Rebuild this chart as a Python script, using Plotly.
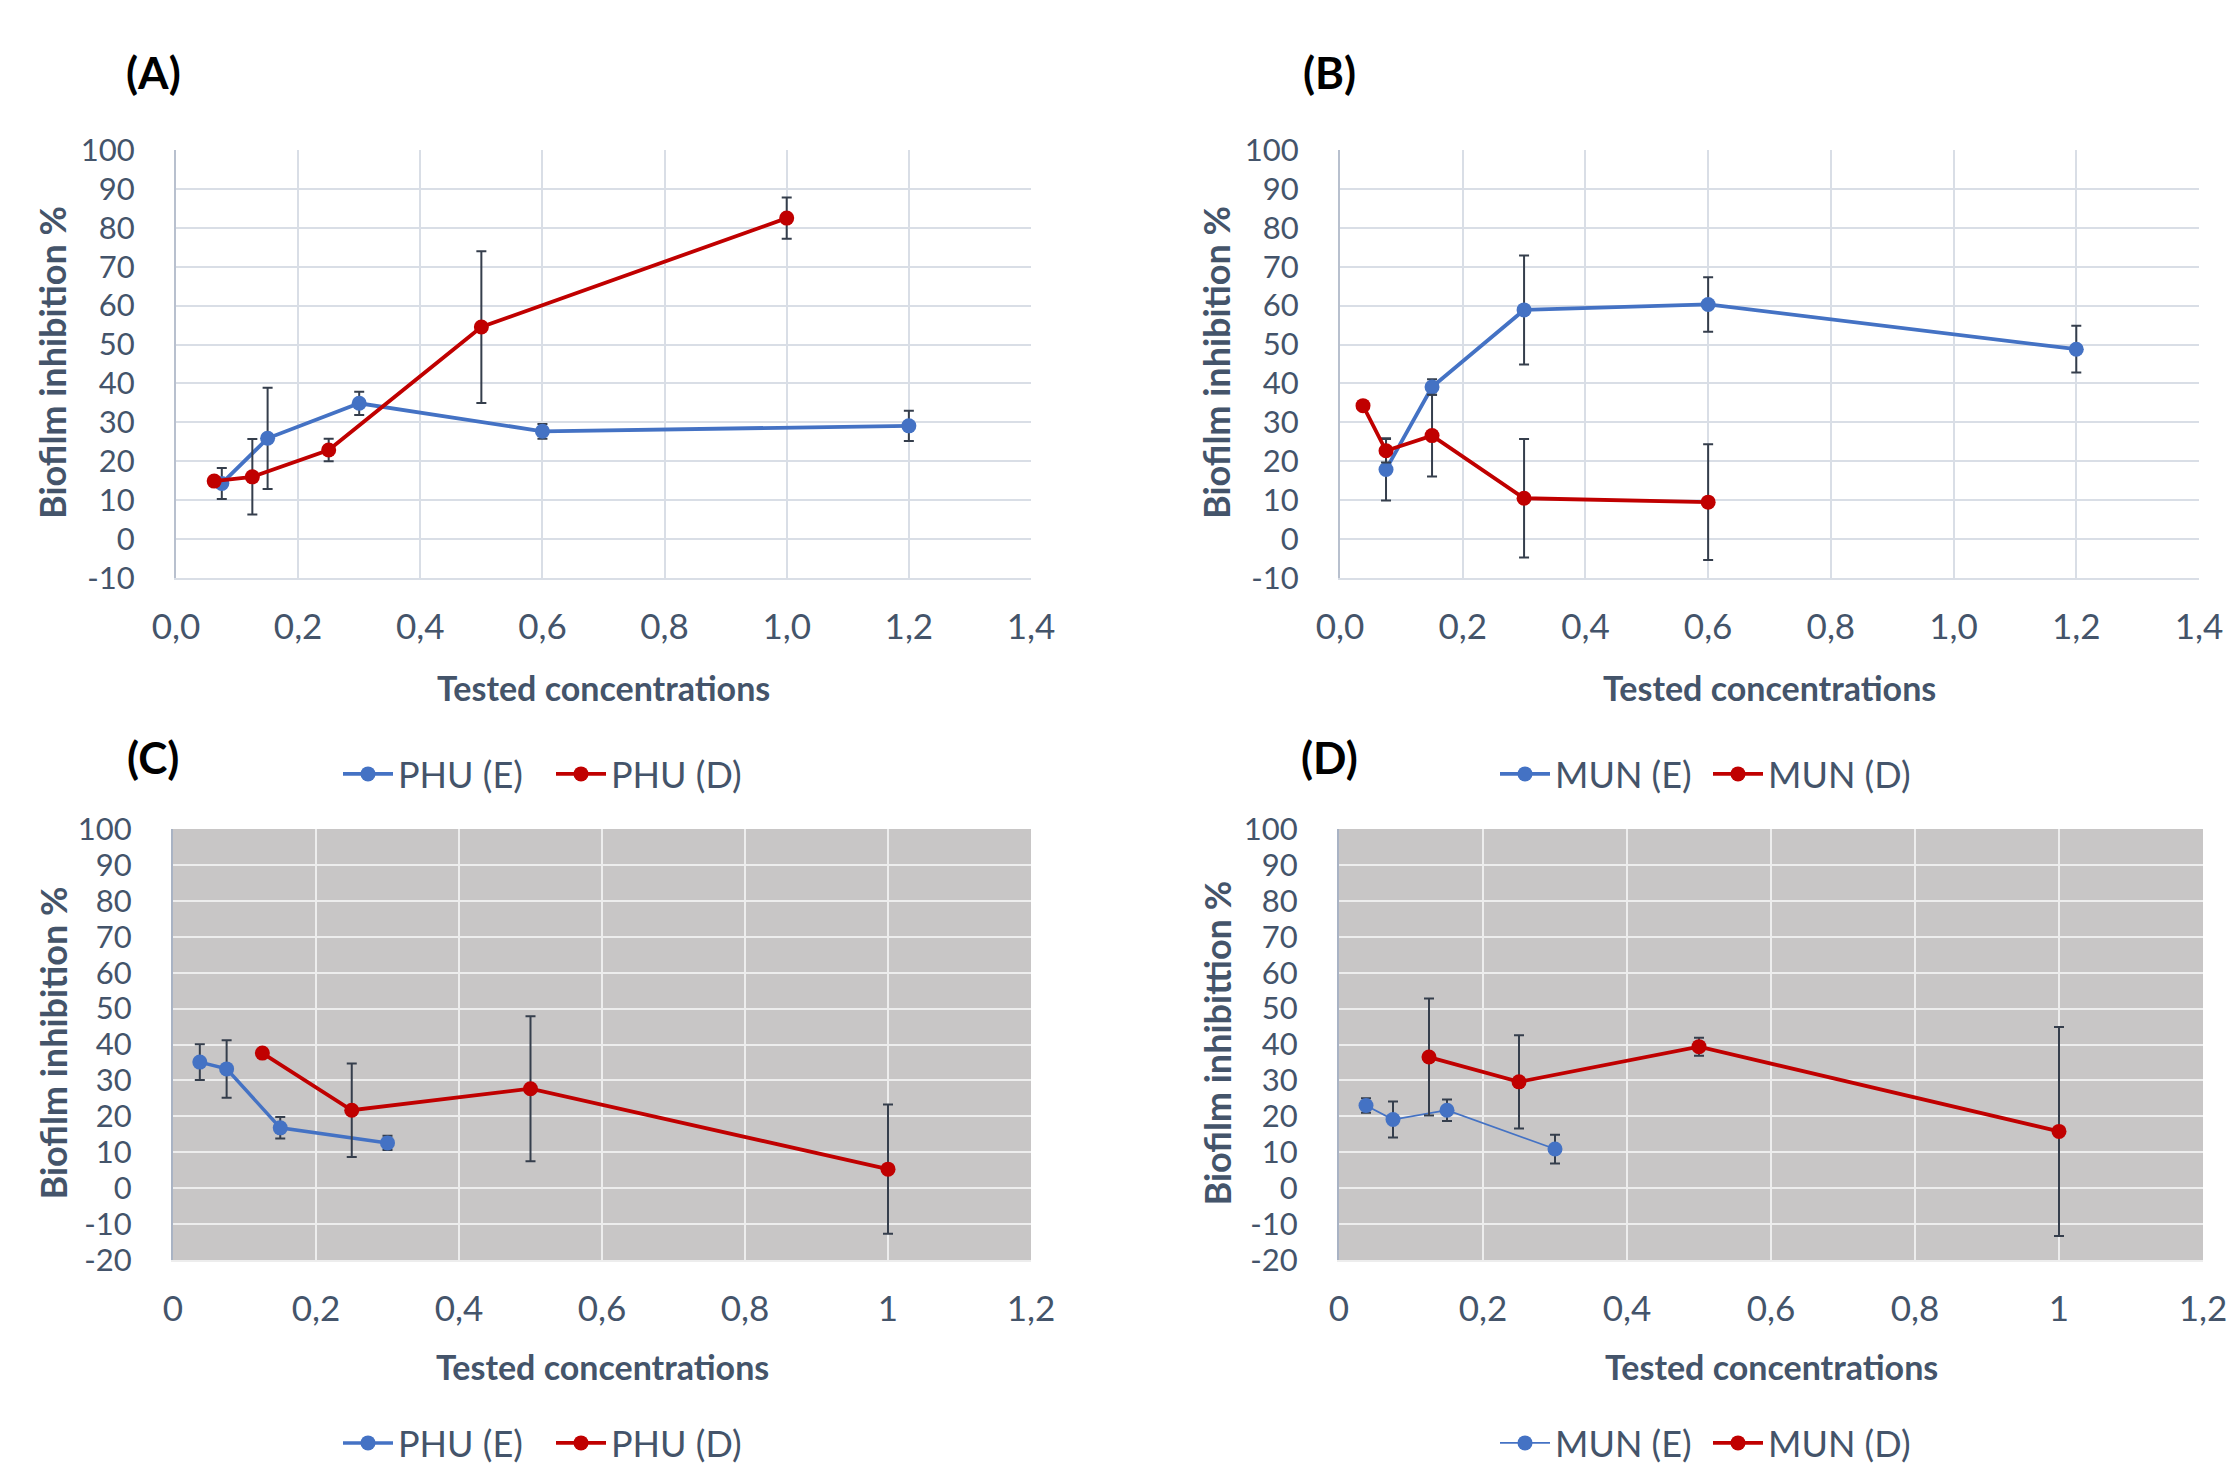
import plotly.graph_objects as go

W, H = 2226, 1470

# ---------------- data ----------------
# Panel A (PHU)
a_e_x = [0.075, 0.15, 0.3, 0.6, 1.2]
a_e_y = [14.3, 25.9, 34.9, 27.7, 29.1]
a_e_err = [4, 13, 3, 1.9, 3.9]
a_d_x = [0.0625, 0.125, 0.25, 0.5, 1.0]
a_d_y = [14.9, 16, 22.9, 54.5, 82.5]
a_d_err = [0, 9.7, 2.9, 19.5, 5.3]

# Panel B (MUN)
b_e_x = [0.075, 0.15, 0.3, 0.6, 1.2]
b_e_y = [17.9, 39.1, 58.9, 60.3, 48.8]
b_e_err = [8, 2, 14, 7, 6]
b_d_x = [0.0375, 0.075, 0.15, 0.3, 0.6]
b_d_y = [34.3, 22.7, 26.6, 10.5, 9.5]
b_d_err = [0, 3, 10.5, 15.2, 14.9]

# Panel C (PHU)
c_e_x = [0.0375, 0.075, 0.15, 0.3]
c_e_y = [35.1, 33.2, 16.8, 12.6]
c_e_err = [5, 8, 3, 2]
c_d_x = [0.125, 0.25, 0.5, 1.0]
c_d_y = [37.6, 21.7, 27.7, 5.3]
c_d_err = [0, 13, 20.2, 18]

# Panel D (MUN)
d_e_x = [0.0375, 0.075, 0.15, 0.3]
d_e_y = [23, 19.1, 21.7, 10.9]
d_e_err = [2, 5, 3, 4]
d_d_x = [0.125, 0.25, 0.5, 1.0]
d_d_y = [36.5, 29.6, 39.4, 15.8]
d_d_err = [16.3, 13, 2.5, 29.1]

# tick labels
top_x_vals = [0, 0.2, 0.4, 0.6, 0.8, 1.0, 1.2, 1.4]
top_x_text = ["0,0", "0,2", "0,4", "0,6", "0,8", "1,0", "1,2", "1,4"]
bot_x_vals = [0, 0.2, 0.4, 0.6, 0.8, 1.0, 1.2]
bot_x_text = ["0", "0,2", "0,4", "0,6", "0,8", "1", "1,2"]
top_y_vals = [-10, 0, 10, 20, 30, 40, 50, 60, 70, 80, 90, 100]
top_y_text = ["-10", "0", "10", "20", "30", "40", "50", "60", "70", "80", "90", "100"]
bot_y_vals = [-20, -10, 0, 10, 20, 30, 40, 50, 60, 70, 80, 90, 100]
bot_y_text = ["-20", "-10", "0", "10", "20", "30", "40", "50", "60", "70", "80", "90", "100"]

panel_labels = ["(A)", "(B)", "(C)", "(D)"]
series_names = [["PHU (E)", "PHU (D)"], ["MUN (E)", "MUN (D)"],
                ["PHU (E)", "PHU (D)"], ["MUN (E)", "MUN (D)"]]
y_titles = ["Biofilm inhibition %", "Biofilm inhibition %",
            "Biofilm inhibition %", "Biofilm inhibittion %"]
x_title = "Tested concentrations"

# ---------------- styling ----------------
BLUE = "#4472C4"
RED = "#C00000"
TXT = "#44546A"
ERR = "#353E4C"
FONT = "Lato"

# pixel boxes: (left, right, top, bottom)
boxes = [(176, 1031, 150, 578), (1340, 2199, 150, 578),
         (173, 1031, 829, 1260), (1339, 2203, 829, 1260)]

fig = go.Figure()

panels = [
    (a_e_x, a_e_y, a_e_err, a_d_x, a_d_y, a_d_err),
    (b_e_x, b_e_y, b_e_err, b_d_x, b_d_y, b_d_err),
    (c_e_x, c_e_y, c_e_err, c_d_x, c_d_y, c_d_err),
    (d_e_x, d_e_y, d_e_err, d_d_x, d_d_y, d_d_err),
]
blue_widths = [3.8, 3.8, 3.5, 1.8]
legend_names = ["legend", "legend2", "legend3", "legend4"]

for i, (ex, ey, ee, dx, dy, de) in enumerate(panels):
    sfx = "" if i == 0 else str(i + 1)
    lg = legend_names[i]
    fig.add_trace(go.Scatter(
        x=ex, y=ey, mode="lines+markers", name=series_names[i][0],
        line=dict(color=BLUE, width=blue_widths[i]),
        marker=dict(color=BLUE, size=15),
        error_y=dict(type="data", array=ee, visible=True, color=ERR,
                     thickness=2, width=5),
        xaxis="x" + sfx, yaxis="y" + sfx, legend=lg))
    fig.add_trace(go.Scatter(
        x=dx, y=dy, mode="lines+markers", name=series_names[i][1],
        line=dict(color=RED, width=3.8),
        marker=dict(color=RED, size=15),
        error_y=dict(type="data", array=de, visible=True, color=ERR,
                     thickness=2, width=5),
        xaxis="x" + sfx, yaxis="y" + sfx, legend=lg))

layout = dict(
    width=W, height=H,
    margin=dict(l=0, r=0, t=0, b=0, autoexpand=False),
    paper_bgcolor="white",
    plot_bgcolor="rgba(0,0,0,0)",
    font=dict(family=FONT, color=TXT, size=33),
    annotations=[], shapes=[],
)

for i, (l, r, t, b) in enumerate(boxes):
    sfx = "" if i == 0 else str(i + 1)
    top = i < 2
    xdom = [l / W, r / W]
    ydom = [1 - b / H, 1 - t / H]
    if top:
        xr = [0, 1.4]; xv, xt = top_x_vals, top_x_text
        yr = [-10, 100]; yv, yt = top_y_vals, top_y_text
        grid = "#D9DEE6"; axl = "#B8C0CE"
        xt_off = 109
    else:
        xr = [0, 1.2]; xv, xt = bot_x_vals, bot_x_text
        yr = [-20, 100]; yv, yt = bot_y_vals, bot_y_text
        grid = "#EDEDED"; axl = "#A9B3C4"
        xt_off = 106
        layout["shapes"].append(dict(
            type="rect", xref="x" + sfx + " domain", yref="y" + sfx + " domain",
            x0=0, x1=1, y0=0, y1=1, fillcolor="#C8C6C6", line=dict(width=0),
            layer="below"))
    layout["xaxis" + sfx] = dict(
        domain=xdom, range=xr, anchor="y" + sfx, tickmode="array",
        tickvals=xv, ticktext=xt, showgrid=True, gridcolor=grid, gridwidth=2,
        zeroline=False, showline=True, linecolor=grid, linewidth=2,
        ticks="outside", ticklen=17, tickcolor="rgba(0,0,0,0)",
        tickfont=dict(family=FONT, size=35, color=TXT), fixedrange=True,
        automargin=False, ticklabeloverflow="allow")
    layout["yaxis" + sfx] = dict(
        domain=ydom, range=yr, anchor="x" + sfx, tickmode="array",
        tickvals=yv, ticktext=yt, showgrid=True, gridcolor=grid, gridwidth=2,
        zeroline=False, showline=True, linecolor=axl, linewidth=2,
        ticks="outside", ticklen=33, tickcolor="rgba(0,0,0,0)",
        tickfont=dict(family=FONT, size=31, color=TXT), fixedrange=True,
        automargin=False, ticklabeloverflow="allow")
    # axis titles
    layout["annotations"].append(dict(
        text="<b>" + x_title + "</b>", xref="paper", yref="paper",
        x=(l + r) / 2 / W, y=1 - (b + xt_off) / H, showarrow=False,
        xanchor="center", yanchor="middle",
        font=dict(family=FONT, size=34, color=TXT)))
    ytx = 52 if i % 2 == 0 else 1216
    layout["annotations"].append(dict(
        text="<b>" + y_titles[i] + "</b>", xref="paper", yref="paper",
        x=ytx / W, y=1 - ((t + b) / 2 - 1) / H, showarrow=False, textangle=-90,
        xanchor="center", yanchor="middle",
        font=dict(family=FONT, size=36, color=TXT)))

# panel labels
lab_pos = [(153, 72), (1329, 72), (153, 757), (1329, 757)]
for txt, (px, py) in zip(panel_labels, lab_pos):
    layout["annotations"].append(dict(
        text="<b>" + txt + "</b>", xref="paper", yref="paper",
        x=px / W, y=1 - py / H, showarrow=False, xanchor="center",
        yanchor="middle", font=dict(family=FONT, size=44, color="black")))

# legends
leg_pos = [(338, 774), (1495, 774), (338, 1443), (1495, 1443)]
for name, (px, py) in zip(legend_names, leg_pos):
    layout[name] = dict(
        orientation="h", x=px / W, y=1 - py / H, xanchor="left",
        yanchor="middle", xref="paper", yref="paper",
        bgcolor="rgba(0,0,0,0)", font=dict(family=FONT, size=36, color=TXT),
        entrywidth=148, entrywidthmode="pixels", itemwidth=50)

fig.update_layout(**layout)

fig.write_html("out.html", config={"displayModeBar": False},
               post_script="document.body.style.margin='0';document.body.style.overflow='hidden';")
